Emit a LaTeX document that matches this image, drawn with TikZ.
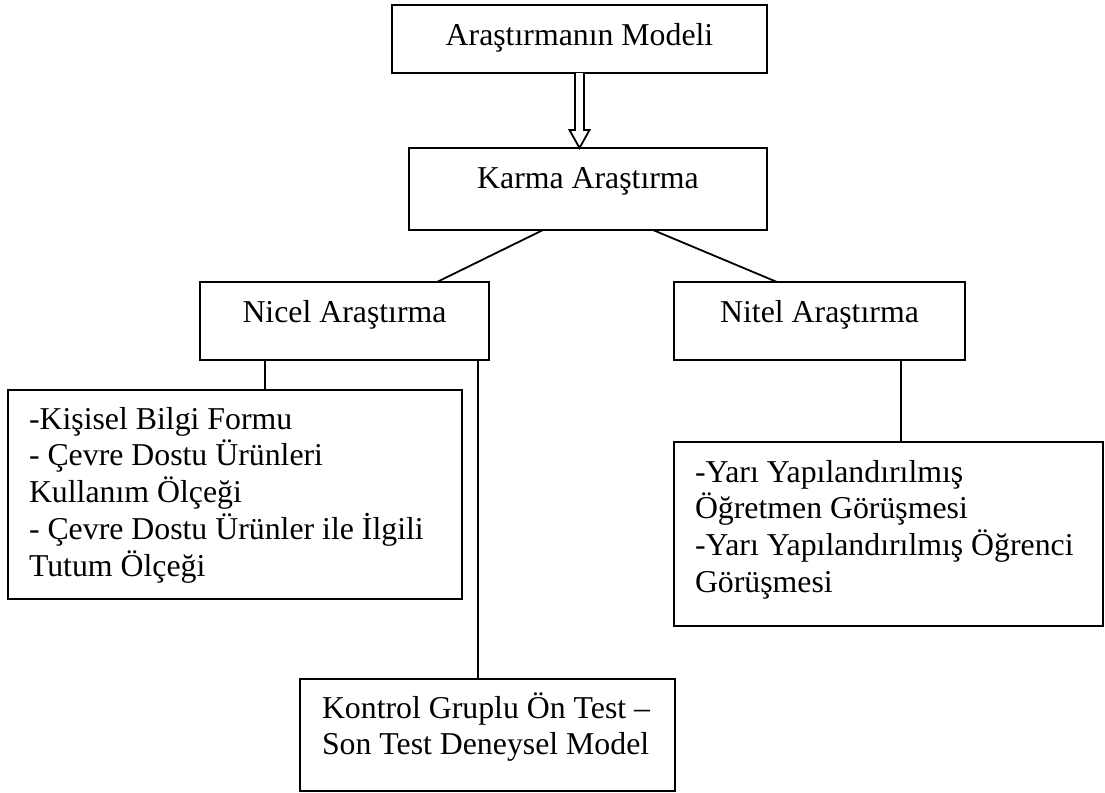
\documentclass[tikz,border=0pt]{standalone}
\usepackage{fontspec}
\setmainfont{Liberation Serif}
\usetikzlibrary{calc}
\tikzset{
  boxnode/.style={draw, line width=0.9pt, rectangle, inner sep=0pt, outer sep=0pt, anchor=north west},
  txt/.style={inner sep=0pt, outer sep=0pt, font=\fontsize{15.9}{18.3}\selectfont},
  conn/.style={line width=0.9pt},
}
\begin{document}
\begin{tikzpicture}[x=0.5pt,y=-0.5pt]
\useasboundingbox (0,0) rectangle (1105,793);
% boxes
\node[boxnode, minimum width=187.5pt, minimum height=34pt] (m) at (392,5) {};
\node[boxnode, minimum width=179pt, minimum height=41pt] (k) at (409,148) {};
\node[boxnode, minimum width=144.5pt, minimum height=39pt] (nicel) at (200,282) {};
\node[boxnode, minimum width=145.5pt, minimum height=39pt] (nitel) at (674,282) {};
\node[boxnode, minimum width=227pt, minimum height=104.5pt] (kis) at (8,390) {};
\node[boxnode, minimum width=214.5pt, minimum height=92pt] (yari) at (674,442) {};
\node[boxnode, minimum width=187.5pt, minimum height=56pt] (kon) at (300,679) {};
% texts
\node[txt, anchor=base] (tm) at ([yshift=-20pt]m.north) {Araştırmanın Modeli};
\node[txt, anchor=base] (tk) at ([yshift=-20pt]k.north) {Karma Araştırma};
\node[txt, anchor=base] (tnicel) at ([yshift=-20pt]nicel.north) {Nicel Araştırma};
\node[txt, anchor=base] (tnitel) at ([yshift=-20pt]nitel.north) {Nitel Araştırma};
\node[txt, anchor=base west] (tkis) at ([xshift=10.5pt,yshift=-19.5pt]kis.north west)
  {\begin{tabular}[t]{@{}l@{}}-Kişisel Bilgi Formu\\- Çevre Dostu Ürünleri\\Kullanım Ölçeği\\- Çevre Dostu Ürünler ile İlgili\\Tutum Ölçeği\end{tabular}};
\node[txt, anchor=base west] (tyari) at ([xshift=10.5pt,yshift=-20pt]yari.north west)
  {\begin{tabular}[t]{@{}l@{}}-Yarı Yapılandırılmış\\Öğretmen Görüşmesi\\-Yarı Yapılandırılmış Öğrenci\\Görüşmesi\end{tabular}};
\node[txt, anchor=base west] (tkon) at ([xshift=11pt,yshift=-19.5pt]kon.north west)
  {\begin{tabular}[t]{@{}l@{}}Kontrol Gruplu Ön Test –\\Son Test Deneysel Model\end{tabular}};
% hollow arrow
\draw[conn, fill=white]
  ($(m.south)+(-2.25pt,0pt)$) --
  ($(m.south |- k.north)+(-2.25pt,9pt)$) --
  ($(m.south |- k.north)+(-5pt,9pt)$) --
  (m.south |- k.north) --
  ($(m.south |- k.north)+(5pt,9pt)$) --
  ($(m.south |- k.north)+(2.25pt,9pt)$) --
  ($(m.south)+(2.25pt,0pt)$);
% connectors
\draw[conn] ([xshift=-22.5pt]k.south) -- ([xshift=46.25pt]nicel.north);
\draw[conn] ([xshift=32.5pt]k.south) -- ([xshift=-21.25pt]nitel.north);
\coordinate (a1) at ([xshift=-39.75pt]nicel.south);
\draw[conn] (a1) -- (a1 |- kis.north);
\coordinate (a2) at ([xshift=66.75pt]nicel.south);
\draw[conn] (a2) -- (a2 |- kon.north);
\coordinate (a3) at ([xshift=40.75pt]nitel.south);
\draw[conn] (a3) -- (a3 |- yari.north);
\end{tikzpicture}
\end{document}
